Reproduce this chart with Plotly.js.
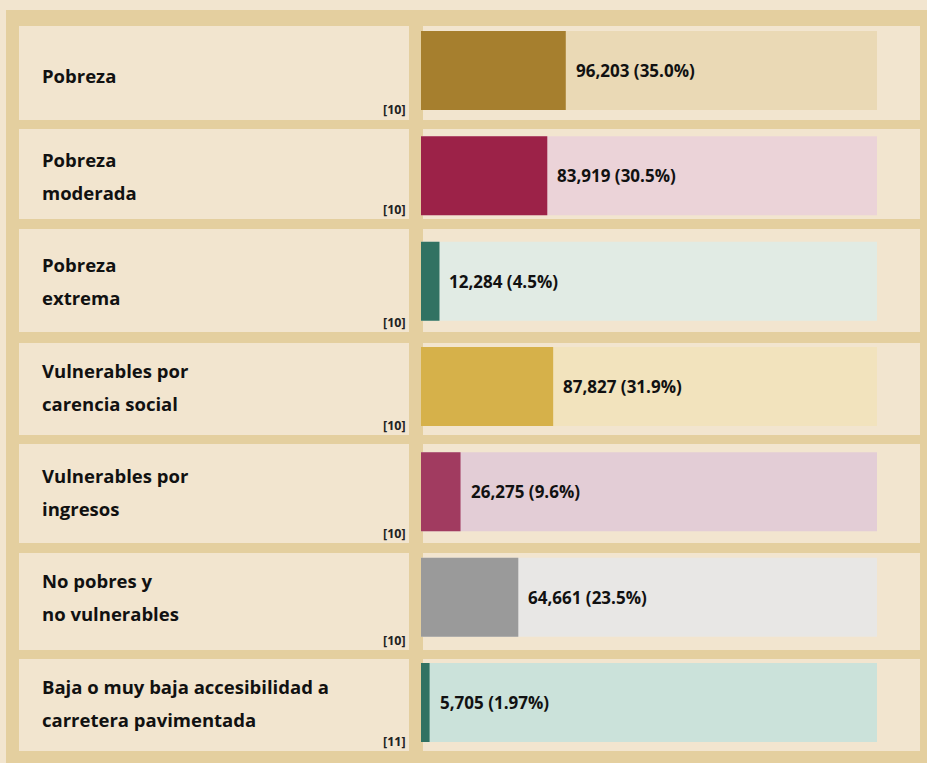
<!DOCTYPE html>
<html>
<head>
<meta charset="utf-8">
<script src="https://cdn.plot.ly/plotly-3.0.1.min.js"></script>
<style>
html,body{margin:0;padding:0;background:#f2e5cf;}
#chart{width:927px;height:763px;}
</style>
</head>
<body>
<div id="chart"></div>
<script>
// ---- data ----
const categories = ['Pobreza','Pobreza moderada','Pobreza extrema','Vulnerables por carencia social','Vulnerables por ingresos','No pobres y no vulnerables','Baja o muy baja accesibilidad a carretera pavimentada'];
const labelLines = [['Pobreza'],['Pobreza','moderada'],['Pobreza','extrema'],['Vulnerables por','carencia social'],['Vulnerables por','ingresos'],['No pobres y','no vulnerables'],['Baja o muy baja accesibilidad a','carretera pavimentada']];
const values = [96203, 83919, 12284, 87827, 26275, 64661, 5705];
const percents = ['35.0%', '30.5%', '4.5%', '31.9%', '9.6%', '23.5%', '1.97%'];
const notes = ['[10]', '[10]', '[10]', '[10]', '[10]', '[10]', '[11]'];
const barColors = ['#a67f2e', '#9c2248', '#317262', '#d6b14a', '#a13b60', '#9a9a9a', '#317262'];
const bgColors = ['#ead9b5', '#ebd3d8', '#e1ebe4', '#f2e3bd', '#e3cdd6', '#e8e7e5', '#cbe2da'];

// ---- layout constants ----
const W = 927, H = 763;
const XMAX = 303000;
const FONT = 'Open Sans, Noto Sans, sans-serif';
const cellRows = [[26,120],[129,219],[229,332],[343,435],[444,543],[553,650],[659,751]];
const px = v => v / W;
const py = v => 1 - v / H;

const shapes = [];
shapes.push({type:'rect', xref:'paper', yref:'paper', x0:px(6), x1:px(927), y0:py(763), y1:py(10), fillcolor:'#e4cf9f', line:{width:0}, layer:'below'});
cellRows.forEach(r => {
  shapes.push({type:'rect', xref:'paper', yref:'paper', x0:px(19), x1:px(409), y0:py(r[1]), y1:py(r[0]), fillcolor:'#f2e5cf', line:{width:0}, layer:'below'});
  shapes.push({type:'rect', xref:'paper', yref:'paper', x0:px(423), x1:px(920), y0:py(r[1]), y1:py(r[0]), fillcolor:'#f2e5cf', line:{width:0}, layer:'below'});
});

const annotations = [];
categories.forEach((c, i) => {
  annotations.push({xref:'x', yref:'y', x:values[i], y:c, xanchor:'left', yanchor:'middle', xshift:8, showarrow:false,
    text:'<b>' + values[i].toLocaleString('en-US') + ' (' + percents[i] + ')</b>', font:{family:FONT, size:17, color:'#111'}});
  const lines = labelLines[i];
  const sp = 33;
  lines.forEach((t, j) => {
    const off = (j - (lines.length - 1) / 2) * sp;
    annotations.push({xref:'paper', yref:'y', x:px(40), y:c, xanchor:'left', yanchor:'middle', yshift:-off - (lines.length===1 ? 5 : 0), showarrow:false,
      text:'<b>' + t + '</b>', font:{family:FONT, size:18.5, color:'#111'}});
  });
  annotations.push({xref:'paper', yref:'paper', x:px(408), y:py(cellRows[i][1] - 10), xanchor:'right', yanchor:'middle', showarrow:false,
    text:'<b>' + notes[i] + '</b>', font:{family:FONT, size:12.5, color:'#222'}});
});

const traces = [
  {type:'bar', orientation:'h', y:categories, x:categories.map(() => XMAX), marker:{color:bgColors, line:{width:0}}, hoverinfo:'skip', showlegend:false},
  {type:'bar', orientation:'h', y:categories, x:values, marker:{color:barColors, line:{width:0}}, showlegend:false}
];

const layout = {
  width:W, height:H,
  margin:{l:0, r:0, t:0, b:0, pad:0},
  paper_bgcolor:'#f2e5cf', plot_bgcolor:'rgba(0,0,0,0)',
  barmode:'overlay', bargap:0.25,
  xaxis:{domain:[px(421), px(877)], range:[0, XMAX], visible:false, fixedrange:true},
  yaxis:{domain:[py(755.2), py(17.8)], type:'category', autorange:'reversed', visible:false, fixedrange:true},
  shapes:shapes, annotations:annotations, showlegend:false
};

Plotly.newPlot('chart', traces, layout, {displayModeBar:false, staticPlot:true});
</script>
</body>
</html>
